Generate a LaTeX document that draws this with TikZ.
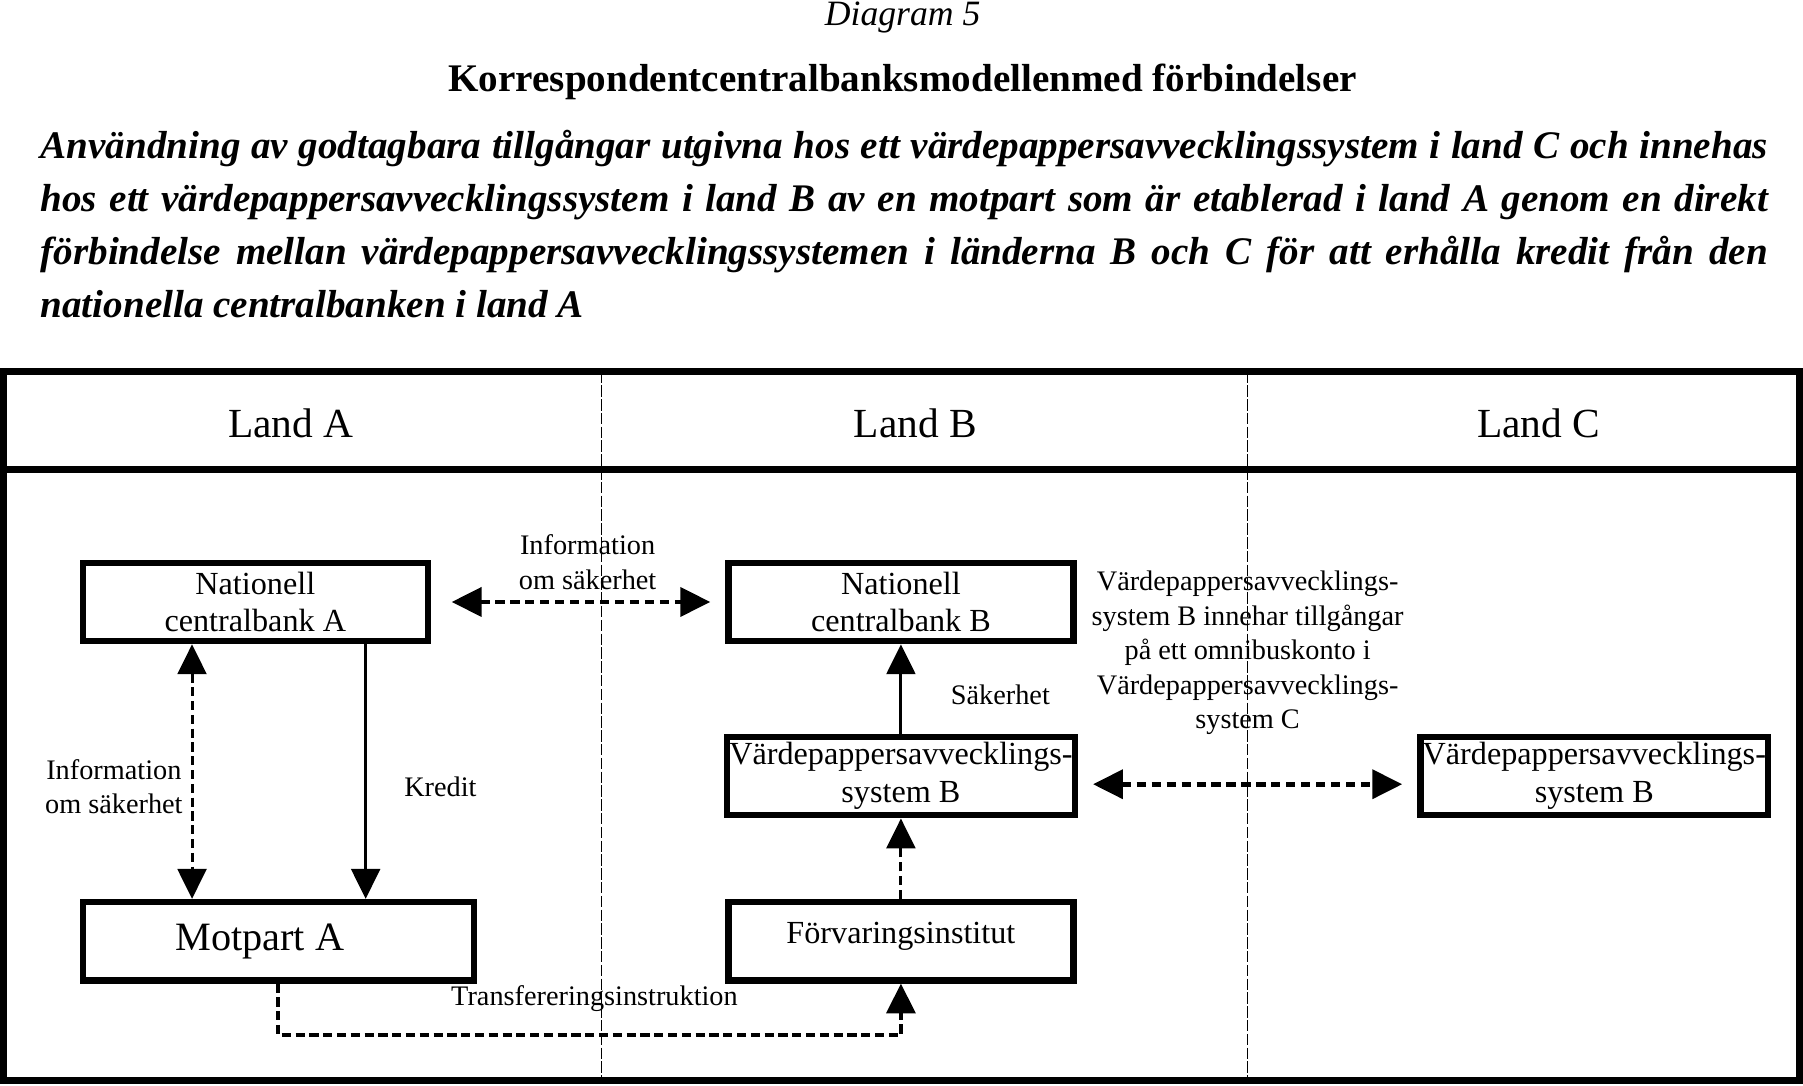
\documentclass[tikz,border=0pt]{standalone}
\usepackage{fontspec}
\setmainfont{Liberation Serif}
\usetikzlibrary{arrows.meta,positioning}

\begin{document}
\begin{tikzpicture}[
    x=0.5pt, y=-0.5pt,
    >={Triangle[length=13pt,width=12.5pt]},
    box/.style={draw, rectangle, line width=2.8pt, minimum width=150pt, minimum height=34pt, inner sep=1pt, align=center, font=\fontsize{14}{16.5}\selectfont},
    lbl/.style={align=center, inner sep=0pt, font=\fontsize{12.3}{15}\selectfont},
    land/.style={font=\fontsize{18}{20}\selectfont},
    flow/.style={->, line width=1.3pt},
    dflow/.style={->, line width=1.3pt, dash pattern=on 4pt off 2pt},
    info/.style={<->, line width=2pt, dash pattern=on 4pt off 2.5pt},
    border/.style={line width=0.4pt, dash pattern=on 5pt off 1pt}
  ]
  \useasboundingbox (0,0) rectangle (1568,944);

  % heading
  \node[anchor=base, font=\fontsize{15.5}{18}\selectfont\itshape] (diag) at (785,22) {Diagram 5};
  \node[anchor=base, font=\fontsize{17}{20}\selectfont\bfseries] (title) at (785,80) {Korrespondentcentralbanksmodellenmed förbindelser};
  \node[anchor=north west, inner sep=0pt, text width=751pt, align=justify, font=\fontsize{17}{23}\selectfont\bfseries\itshape] (subtitle) at (35,113)
    {Användning av godtagbara tillgångar utgivna hos ett värdepappersavvecklingssystem i land C och innehas\linebreak
     hos ett värdepappersavvecklingssystem i land B av en motpart som är etablerad i land A genom en direkt\linebreak
     förbindelse mellan värdepappersavvecklingssystemen i länderna B och C för att erhålla kredit från den\linebreak
     nationella centralbanken i land A};

  % frame and columns
  \draw[line width=3pt] (3,323) rectangle (1565,940);
  \draw[line width=3pt] (3,408) -- (1565,408);
  \draw[border] (523,323) -- (523,940);
  \draw[border] (1085,323) -- (1085,940);

  \node[land] (landA) at (253,368) {Land A};
  \node[land] (landB) at (796,368) {Land B};
  \node[land] (landC) at (1338,368) {Land C};

  % boxes
  \node[box] (ncbA) at (222,523.5) {Nationell\\centralbank A};
  \node[box] (ncbB) at (783.5,523.5) {Nationell\\centralbank B};
  \node[box] (vpsB) at (783.5,675) {Värdepappersavvecklings-\\system B};
  \node[box] (vpsC) at (1386.5,675) {Värdepappersavvecklings-\\system B};
  \node[box, minimum width=170pt, font=\fontsize{17.5}{20}\selectfont] (motpart) at (242,818.5) {Motpart A\hspace*{16pt}};
  \node[box, text depth=7pt] (forv) at (783.5,818.5) {Förvaringsinstitut};

  \coordinate (xinfo) at (167,0);
  \coordinate (xcred) at (318,0);
  \coordinate (ylink) at (0,682);

  % connectors
  \draw[info, shorten <=9pt, shorten >=6.5pt] (ncbA) -- (ncbB);
  \draw[<->, line width=1.3pt, dash pattern=on 4pt off 2pt] (xinfo |- ncbA.south) -- (xinfo |- motpart.north);
  \draw[flow] (xcred |- ncbA.south) -- (xcred |- motpart.north);
  \draw[flow] (vpsB) -- (ncbB);
  \draw[dflow] (forv) -- (vpsB);
  \draw[info, shorten <=6.5pt, shorten >=6.5pt] (vpsB.east |- ylink) -- (vpsC.west |- ylink);
  \draw[dflow, line width=1.7pt] (motpart.south) -- ++(0,45) -| (forv.south);

  % labels
  \node[lbl] (infoAB) at (511,489) {Information\\om säkerhet};
  \node[lbl] (infoA) at (99,684) {Information\\om säkerhet};
  \node[lbl] (kredit) at (383,684) {Kredit};
  \node[lbl] (sakerhet) at (870,604) {Säkerhet};
  \node[lbl] (omnibus) at (1085,568) {Värdepappersavvecklings-\\system B innehar tillgångar\\på ett omnibuskonto i\\Värdepappersavvecklings-\\system C};
  \node[lbl] (transfer) at (517,868) {Transfereringsinstruktion};
\end{tikzpicture}
\end{document}
